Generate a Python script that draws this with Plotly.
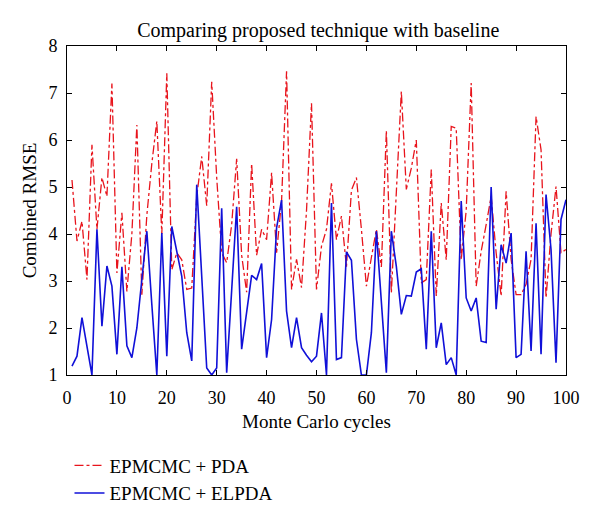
import plotly.graph_objects as go

cycles = list(range(1, 101))
pda = [5.15, 3.85, 4.27, 3.03, 5.9, 4.1, 5.2, 4.8, 7.2, 3.17,
       4.45, 2.78, 4.0, 6.32, 2.71, 4.4, 5.5, 6.4, 4.0, 7.42,
       3.24, 3.6, 3.45, 2.82, 2.85, 4.8, 5.65, 4.6, 7.24, 5.2,
       3.6, 3.39, 4.2, 5.6, 3.55, 2.76, 5.5, 3.55, 4.1, 3.88,
       5.3, 3.6, 4.7, 7.46, 2.82, 3.46, 2.86, 4.5, 6.78, 2.82,
       3.74, 4.1, 5.08, 3.88, 4.38, 3.3, 4.93, 5.2, 4.1, 2.89,
       3.5, 4.1, 3.3, 6.2, 2.75, 5.0, 7.03, 4.95, 5.4, 6.0,
       2.96, 3.03, 5.37, 2.68, 4.66, 3.45, 6.29, 6.25, 3.45, 4.5,
       7.21, 2.89, 3.63, 4.2, 4.8, 3.6, 2.68, 4.91, 3.46, 2.71,
       2.71, 2.93, 3.46, 6.5, 5.79, 2.64, 4.0, 5.01, 3.6, 3.67]
elpda = [1.19, 1.40, 2.22, 1.6, 1.0, 4.1, 2.04, 3.32, 2.89, 1.44,
         3.30, 1.62, 1.37, 2.0, 3.0, 4.06, 2.5, 1.0, 4.02, 1.40,
         4.16, 3.6, 3.10, 1.9, 1.30, 5.05, 3.0, 1.15, 1.0, 1.15,
         4.55, 1.05, 2.8, 4.58, 1.55, 2.3, 3.12, 3.03, 3.37, 1.37,
         2.18, 4.13, 4.72, 2.36, 1.58, 2.22, 1.58, 1.42, 1.28, 1.40,
         2.32, 1.0, 4.66, 1.33, 1.37, 3.62, 3.44, 1.76, 1.0, 1.0,
         1.9, 4.06, 2.5, 1.05, 4.06, 3.31, 2.29, 2.69, 2.68, 3.19,
         3.26, 1.55, 4.06, 1.58, 2.11, 1.22, 1.37, 1.0, 4.70, 2.64,
         2.36, 2.64, 1.72, 1.69, 5.0, 2.40, 3.77, 3.38, 4.02, 1.37,
         1.44, 3.63, 1.51, 4.23, 1.44, 4.84, 3.67, 1.26, 4.31, 4.73]

x_ticks = list(range(0, 101, 10))
y_ticks = list(range(1, 9))

FONT = "Liberation Serif"

fig = go.Figure()
fig.add_trace(go.Scatter(x=cycles, y=pda, mode="lines", name="EPMCMC + PDA",
                         line=dict(color="#e8141c", width=1.3, dash="dashdot")))
fig.add_trace(go.Scatter(x=cycles, y=elpda, mode="lines", name="EPMCMC + ELPDA",
                         line=dict(color="#1010d8", width=1.6)))

axis_common = dict(showline=True, linecolor="black", linewidth=1, mirror="ticks",
                   ticks="inside", ticklen=5, tickcolor="black", showgrid=False,
                   zeroline=False, tickfont=dict(family=FONT, size=18, color="black"))

fig.update_layout(
    width=592, height=514,
    paper_bgcolor="white", plot_bgcolor="white",
    margin=dict(l=59, r=34, t=38, b=147),
    title=dict(text="Comparing proposed technique with baseline", x=0.524, xanchor="center",
               y=0.957, yanchor="middle", font=dict(family=FONT, size=20, color="black")),
    xaxis=dict(range=[0, 100], tickvals=x_ticks, ticklabelstandoff=6,
               title=dict(text="Monte Carlo cycles",
                          font=dict(family=FONT, size=19, color="black"), standoff=8),
               **axis_common),
    yaxis=dict(range=[1, 8], tickvals=y_ticks, ticklabelstandoff=5,
               title=dict(text="Combined RMSE",
                          font=dict(family=FONT, size=19, color="black"), standoff=6),
               **axis_common),
    legend=dict(x=0.005, xanchor="left", y=0.147, yanchor="top", yref="container",
                orientation="v",
                font=dict(family=FONT, size=19, color="black"), bgcolor="rgba(0,0,0,0)",
                itemwidth=30, tracegroupgap=0),
    showlegend=True,
)

fig.write_html("out.html")
